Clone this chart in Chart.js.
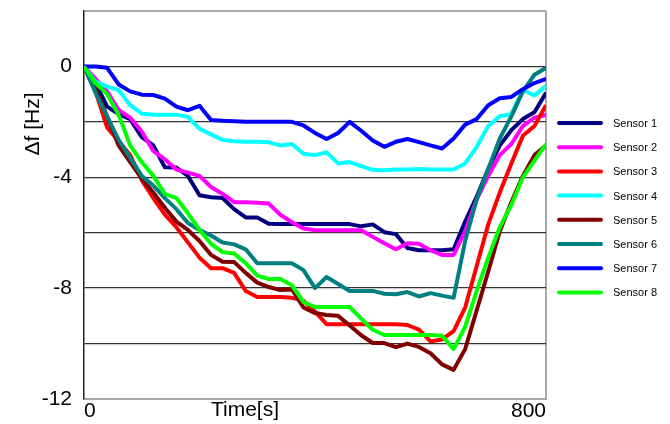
<!DOCTYPE html>
<html>
<head>
<meta charset="utf-8">
<script src="https://cdn.jsdelivr.net/npm/chart.js@4.4.1/dist/chart.umd.min.js"></script>
<style>
  html, body { margin: 0; padding: 0; background: #fff; }
  #wrap { position: relative; width: 670px; height: 424px; }
</style>
</head>
<body>
<div id="wrap"><canvas id="chart" width="670" height="424"></canvas></div>
<script>
var times = [0,20,40,60,80,100,120,140,160,180,200,220,240,260,280,300,320,340,360,380,400,
  420,440,460,480,500,520,540,560,580,600,620,640,660,680,700,720,740,760,780,800];

var sensor1 = [0,-0.6,-1.45,-1.72,-1.9,-2.55,-2.85,-3.64,-3.65,-3.95,-4.65,-4.72,-4.75,-5.15,-5.45,-5.45,-5.68,-5.69,-5.69,-5.69,-5.69,
  -5.69,-5.69,-5.69,-5.77,-5.7,-5.98,-6.05,-6.55,-6.63,-6.63,-6.63,-6.6,-5.6,-4.7,-3.7,-2.85,-2.3,-1.9,-1.65,-0.95];
var sensor2 = [0,-0.45,-0.9,-1.57,-1.85,-2.35,-3.05,-3.35,-3.72,-3.83,-3.95,-4.35,-4.6,-4.9,-4.9,-4.92,-4.95,-5.35,-5.62,-5.85,-5.91,
  -5.91,-5.91,-5.91,-5.91,-6.15,-6.38,-6.6,-6.38,-6.4,-6.63,-6.8,-6.8,-5.95,-4.8,-3.95,-3.2,-2.8,-2.15,-1.85,-1.75];
var sensor3 = [0,-0.9,-2.2,-2.7,-3.2,-4.1,-4.75,-5.35,-5.8,-6.35,-6.9,-7.28,-7.28,-7.45,-8.1,-8.32,-8.32,-8.32,-8.35,-8.45,-8.85,
  -9.3,-9.3,-9.3,-9.3,-9.3,-9.3,-9.3,-9.33,-9.5,-9.92,-9.85,-9.55,-8.7,-7.2,-5.7,-4.55,-3.5,-2.5,-2.15,-1.4];
var sensor4 = [0,-0.55,-0.73,-0.85,-1.4,-1.7,-1.74,-1.74,-1.74,-1.82,-2.25,-2.45,-2.65,-2.7,-2.72,-2.72,-2.74,-2.85,-2.8,-3.15,-3.2,
  -3.1,-3.5,-3.45,-3.6,-3.73,-3.75,-3.72,-3.72,-3.7,-3.72,-3.72,-3.72,-3.5,-2.9,-2.15,-1.8,-1.72,-0.85,-1.05,-0.7];
var sensor5 = [0,-0.8,-1.8,-2.85,-3.45,-4.05,-4.55,-5.1,-5.6,-5.9,-6.3,-6.8,-7.05,-7.06,-7.45,-7.8,-7.96,-8.07,-8.05,-8.7,-8.9,
  -8.97,-9.0,-9.35,-9.7,-9.98,-9.98,-10.13,-10.0,-10.12,-10.35,-10.75,-10.95,-10.2,-8.8,-7.4,-5.95,-4.9,-3.95,-3.2,-2.85];
var sensor6 = [0,-0.95,-1.8,-2.65,-3.3,-3.95,-4.3,-4.75,-5.15,-5.65,-5.9,-6.1,-6.35,-6.42,-6.6,-7.1,-7.1,-7.1,-7.1,-7.35,-8.0,
  -7.6,-7.85,-8.1,-8.1,-8.1,-8.2,-8.22,-8.14,-8.3,-8.18,-8.27,-8.35,-6.3,-4.8,-3.7,-2.6,-1.8,-0.9,-0.3,-0.05];
var sensor7 = [0,0,-0.05,-0.65,-0.9,-1.02,-1.03,-1.16,-1.45,-1.58,-1.42,-1.93,-1.96,-1.98,-2.0,-2.0,-2.0,-2.0,-2.0,-2.13,-2.4,
  -2.62,-2.4,-2.0,-2.32,-2.67,-2.9,-2.72,-2.62,-2.73,-2.85,-2.96,-2.6,-2.1,-1.9,-1.4,-1.15,-1.1,-0.82,-0.6,-0.45];
var sensor8 = [0,-0.6,-1.0,-1.75,-2.85,-3.45,-3.95,-4.6,-4.75,-5.3,-5.9,-6.4,-6.7,-6.75,-7.1,-7.55,-7.67,-7.67,-7.9,-8.5,-8.68,
  -8.68,-8.68,-8.68,-9.1,-9.5,-9.69,-9.69,-9.69,-9.69,-9.69,-9.72,-10.2,-9.4,-8.1,-6.9,-5.8,-5.0,-4.0,-3.4,-2.8];

var seriesNames = ["Sensor 1","Sensor 2","Sensor 3","Sensor 4","Sensor 5","Sensor 6","Sensor 7","Sensor 8"];
var seriesData = [sensor1, sensor2, sensor3, sensor4, sensor5, sensor6, sensor7, sensor8];
var seriesColors = ["#000080","#FF00FF","#FF0000","#00FFFF","#800000","#008080","#0000FF","#00FF00"];

var xTicks = [0, 800];
var yMin = -12, yMax = 2, yStep = 2;

var FONT = "'Liberation Sans', Arial, sans-serif";

function toPoints(vals){
  var pts = [];
  for (var i = 0; i < times.length; i++) pts.push({x: times[i], y: vals[i]});
  return pts;
}

var datasets = [];
for (var i = 0; i < seriesNames.length; i++) {
  datasets.push({
    label: seriesNames[i],
    data: toPoints(seriesData[i]),
    borderColor: seriesColors[i],
    backgroundColor: seriesColors[i],
    borderWidth: 4,
    pointRadius: 0,
    tension: 0,
    borderJoinStyle: 'round',
    order: seriesNames.length - i   // later sensors on top, like the original
  });
}

// axis titles + legend drawn by hand so they sit where the original has them
var extras = {
  id: 'extras',
  afterDraw: function(chart){
    var c = chart.ctx;
    c.save();
    c.fillStyle = '#000';
    c.font = "21px " + FONT;
    c.textAlign = 'center';
    c.textBaseline = 'middle';
    c.fillText("Time[s]", 245, 410);
    c.translate(33, 124);
    c.rotate(-Math.PI / 2);
    c.fillText("\u0394f [Hz]", 0, 0);
    c.restore();

    c.save();
    c.font = "11px " + FONT;
    c.textAlign = 'left';
    c.textBaseline = 'middle';
    c.lineCap = 'round';
    for (var i = 0; i < seriesNames.length; i++) {
      var y = 123 + i * 24.2;
      c.strokeStyle = seriesColors[i];
      c.lineWidth = 4;
      c.beginPath();
      c.moveTo(559, y);
      c.lineTo(601, y);
      c.stroke();
      c.fillStyle = '#000';
      c.fillText(seriesNames[i], 613, y + 1);
    }
    c.restore();
  }
};

new Chart(document.getElementById('chart'), {
  type: 'line',
  data: { datasets: datasets },
  plugins: [extras],
  options: {
    responsive: false,
    animation: false,
    layout: { padding: { top: 11, right: 124, left: 0, bottom: 0 } },
    plugins: { legend: { display: false }, tooltip: { enabled: false } },
    scales: {
      x: {
        type: 'linear',
        min: 0, max: 800,
        afterBuildTicks: function(s){ s.ticks = xTicks.map(function(v){ return {value: v}; }); },
        afterFit: function(s){ s.height = 25; s.paddingLeft = 0; s.paddingRight = 0; },
        grid: {
          drawTicks: false,
          color: function(ctx){ return ctx.tick && ctx.tick.value === 800 ? '#a8a8a8' : 'rgba(0,0,0,0)'; },
          lineWidth: 2
        },
        border: { color: '#a8a8a8', width: 2 },
        ticks: {
          align: 'inner',
          padding: 0,
          color: '#000',
          font: { family: FONT, size: 21 },
          maxRotation: 0,
          autoSkip: false,
          callback: function(v){ return String(v); }
        }
      },
      y: {
        min: yMin, max: yMax,
        afterFit: function(s){ s.width = 84; s.paddingTop = 0; s.paddingBottom = 0; },
        grid: {
          drawTicks: false,
          color: function(ctx){
            var v = ctx.tick ? ctx.tick.value : null;
            if (v === yMin) return 'rgba(0,0,0,0)';
            if (v === yMax) return '#a8a8a8';
            return '#333';
          },
          lineWidth: function(ctx){ return ctx.tick && ctx.tick.value === yMax ? 2 : 1.3; }
        },
        border: { color: '#222', width: 1.5 },
        ticks: {
          stepSize: yStep,
          padding: 12,
          color: '#000',
          font: { family: FONT, size: 21 },
          callback: function(v){ return (v <= 0 && v % 4 === 0) ? String(v) : ''; }
        }
      }
    }
  }
});
</script>
</body>
</html>
